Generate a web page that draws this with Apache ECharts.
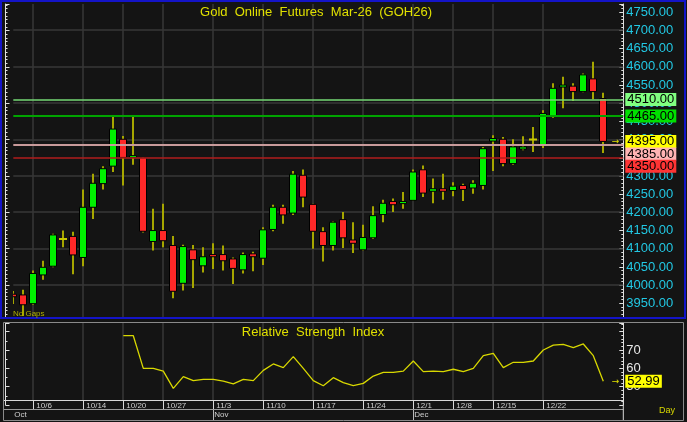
<!DOCTYPE html>
<html><head><meta charset="utf-8">
<script src="https://cdn.jsdelivr.net/npm/echarts@6/dist/echarts.min.js"></script>
<style>html,body{margin:0;padding:0;background:#141414;}#c{width:687px;height:422px;}</style>
</head><body><div id="c"></div>
<script>
// ---- data ----
const dates = ['10/2','10/3','10/6','10/7','10/8','10/9','10/10','10/14','10/15','10/16',
  '10/17','10/20','10/21','10/22','10/23','10/27','10/28','10/29','10/30','10/31',
  '11/3','11/4','11/5','11/6','11/7','11/10','11/11','11/12','11/13','11/14',
  '11/17','11/18','11/19','11/20','11/21','11/24','11/25','11/26','11/27','11/28',
  '12/1','12/2','12/3','12/4','12/8','12/9','12/10','12/11','12/15','12/16',
  '12/17','12/18','12/19','12/22','12/23','12/24','12/26','12/29','12/30','12/31','',' '];
const opens  = [3975,3973,3949,4028,4052,4127,4134,4076,4214,4279,4327,4401,4351,4350,4120,4150,4109,4005,4097,4053,
  4084,4084,4072,4042,4086,4074,4153,4214,4198,4302,4222,4147,4109,4180,4124,4097,4130,4194,4230,4224,
  4233,4317,4258,4265,4260,4274,4267,4274,4396,4401,4334,4374,4400,4385,4465,4545,4547,4532,4567,4513];
const closes = [3968,3946,4032,4049,4138,4127,4083,4214,4280,4320,4429,4351,4356,4148,4150,4122,3983,4106,4070,4078,
  4078,4067,4046,4084,4078,4152,4214,4193,4305,4242,4148,4109,4173,4130,4115,4131,4191,4225,4221,4230,
  4311,4253,4265,4258,4272,4263,4280,4375,4403,4334,4380,4380,4400,4472,4541,4550,4532,4578,4532,4395];
const lows   = [3948,3915,3946,4015,4049,4104,4030,4052,4182,4263,4311,4274,4331,4145,4095,4104,3964,3985,3992,4035,
  4044,4040,4003,4032,4038,4055,4148,4169,4193,4214,4100,4065,4095,4102,4088,4095,4127,4173,4201,4210,
  4231,4242,4225,4235,4244,4231,4251,4263,4314,4327,4331,4371,4366,4377,4460,4486,4506,4530,4511,4363];
const highs  = [3984,3987,4040,4067,4141,4150,4147,4263,4306,4327,4465,4410,4465,4352,4210,4224,4135,4111,4110,4104,
  4115,4109,4076,4090,4092,4159,4221,4221,4314,4318,4224,4159,4175,4201,4173,4166,4217,4235,4238,4256,
  4318,4329,4293,4306,4283,4279,4288,4380,4412,4407,4401,4409,4435,4481,4555,4573,4555,4582,4614,4529];
const rsi = [null,null,null,null,null,null,null,null,null,null,null,
  77.8,77.8,60,60,58.5,49.1,55.5,53.3,54,54,53,51.5,54,53.3,58.9,62.4,60.4,66.4,60,
  53.3,50.5,54.9,52.2,50.6,51.8,55.8,57.8,57.8,58.5,64,58.2,58.5,58.2,59.5,58.2,60,66.9,68.2,60.4,
  63.3,63.3,64,70,72.7,73.1,71.3,73.3,66.9,52.99];
const weekIdx = [2,7,11,15,20,25,30,35,40,44,48,53];
const monthIdx = [0,20,40];
const monthNames = ['Oct','Nov','Dec'];
const levelValues = [4510,4465,4385,4350];
const lastPrice = 4395;
const lastRsi = 52.99;
const rsiLabels = [50,60,70];
const priceGridValues = [4000,4100,4200,4300,4400,4500,4600,4700];
const titleText = 'Gold  Online  Futures  Mar-26  (GOH26)';
const rsiTitle = 'Relative  Strength  Index';

// ---- chart ----
const FONT = '"Liberation Sans", Arial, sans-serif';
const BG = '#141414';
const GRIDC = '#373737';
const weekSet = new Set(weekIdx);
const lastIdx = dates.length - 1;
const candleData = opens.map((o, i) => [i, o, closes[i], lows[i], highs[i]]);

function renderCandle(params, api) {
  const i = api.value(0), o = api.value(1), c = api.value(2), l = api.value(3), h = api.value(4);
  const pO = api.coord([i, o]), pC = api.coord([i, c]), pL = api.coord([i, l]), pH = api.coord([i, h]);
  const x = Math.round(pO[0]);
  const children = [{type:'line', shape:{x1:x, y1:pH[1], x2:x, y2:pL[1]}, style:{stroke:'#a6a600', lineWidth:2}}];
  if (o === c) {
    children.push({type:'line', shape:{x1:x-4, y1:pO[1], x2:x+4, y2:pO[1]}, style:{stroke:'#c8c800', lineWidth:2}});
  } else {
    const top = Math.min(pO[1], pC[1]);
    const hh = Math.max(Math.abs(pO[1]-pC[1]), 2);
    children.push({type:'rect', shape:{x:x-3.5, y:top, width:7, height:hh},
      style:{fill: c > o ? '#00f000' : '#ff2828', stroke:'#000', lineWidth:1}});
  }
  return {type:'group', children};
}

function renderVGrid(params, api) {
  const i = api.value(0);
  const p = api.coord([i, 0]);
  const cs = params.coordSys;
  const x = Math.round(p[0]);
  return {type:'line', shape:{x1:x, y1:cs.y, x2:x, y2:cs.y + cs.height}, style:{stroke:GRIDC, lineWidth:1.5}};
}
function renderHGrid(params, api) {
  const v = api.value(1);
  const p = api.coord([0, v]);
  const cs = params.coordSys;
  const y = Math.round(p[1]);
  return {type:'line', shape:{x1:cs.x, y1:y, x2:cs.x + cs.width, y2:y}, style:{stroke:GRIDC, lineWidth:1.5}};
}

function boxLabel(v, bg, dy) {
  return {coord:[lastIdx, v], label:{show:true, position:'right', distance:2, offset:[0, dy],
    formatter: v.toFixed(2), backgroundColor:bg, color:'#000', fontSize:13, fontFamily:FONT,
    lineHeight:13, padding:[0,2]}};
}
function arrowLabel(v) {
  return {coord:[lastIdx, v], label:{show:true, position:'left', distance:4, formatter:'→',
    color:'#e0e000', fontSize:9, fontFamily:'DejaVu Sans'}};
}

const option = {
  backgroundColor: BG,
  animation: false,
  grid: [
    {left:13.3, top:4, width:610, height:317.5},
    {left:13.3, top:323, width:610, height:82},
    {left:13.3, top:405, width:610, height:4}
  ],
  xAxis: [
    {gridIndex:0, type:'category', data:dates, boundaryGap:false,
     axisLine:{show:false}, axisTick:{show:false}, axisLabel:{show:false}, splitLine:{show:false}},
    {gridIndex:1, type:'category', data:dates, boundaryGap:false, offset:-5, position:'bottom',
     axisLine:{show:false},
     axisTick:{show:true, interval:(i)=>weekSet.has(i), length:9, lineStyle:{color:'#d8d8d8'}},
     axisLabel:{show:true, interval:(i)=>weekSet.has(i), formatter:(v)=>v, align:'left', verticalAlign:'top',
       padding:[0,0,0,3], margin:2, fontSize:8, color:'#d0d0d0', fontFamily:FONT},
     splitLine:{show:false}},
    {gridIndex:2, type:'category', data:dates, boundaryGap:false, position:'bottom',
     axisLine:{show:false},
     axisTick:{show:true, interval:(i)=>monthIdx.indexOf(i) > 0, length:11, lineStyle:{color:'#b8b8b8'}},
     axisLabel:{show:true, interval:(i)=>monthIdx.indexOf(i) >= 0,
       formatter:(v, i)=>monthNames[monthIdx.indexOf(i)] || '', align:'left', verticalAlign:'top',
       padding:[0,0,0,1], margin:2, fontSize:8, color:'#d0d0d0', fontFamily:FONT},
     splitLine:{show:false}}
  ],
  yAxis: [
    {gridIndex:0, type:'value', position:'right', min:3900, max:4772.8, interval:50,
     axisLine:{show:true, lineStyle:{color:'#e0e0e0'}},
     axisTick:{show:true, inside:true, length:4, lineStyle:{color:'#e0e0e0'}},
     minorTick:{show:true, splitNumber:5, length:2, lineStyle:{color:'#e0e0e0'}},
     axisLabel:{show:true, margin:3, color:'#22c8e4', fontSize:13, fontFamily:FONT,
       formatter:(v)=> (v >= 3950 && v <= 4750) ? v.toFixed(2) : ''},
     splitLine:{show:false}},
    {gridIndex:0, type:'value', position:'left', offset:7.8, min:3900, max:4772.8, interval:100,
     axisLine:{show:true, lineStyle:{color:'#e0e0e0'}},
     axisTick:{show:true, inside:true, length:4, lineStyle:{color:'#e0e0e0'}},
     minorTick:{show:true, splitNumber:10, length:2, lineStyle:{color:'#e0e0e0'}},
     axisLabel:{show:false}, splitLine:{show:false}},
    {gridIndex:1, type:'value', position:'right', min:40, max:84.73, interval:10,
     axisLine:{show:true, lineStyle:{color:'#e0e0e0'}},
     axisTick:{show:true, inside:true, length:4, lineStyle:{color:'#e0e0e0'}},
     minorTick:{show:true, splitNumber:5, length:2, lineStyle:{color:'#e0e0e0'}},
     axisLabel:{show:true, margin:3, color:'#e8e8e8', fontSize:13, fontFamily:FONT,
       formatter:(v)=> rsiLabels.indexOf(v) >= 0 ? String(v) : ''},
     splitLine:{show:false}},
    {gridIndex:1, type:'value', position:'left', offset:7.8, min:40, max:84.73, interval:10,
     axisLine:{show:true, lineStyle:{color:'#e0e0e0'}},
     axisTick:{show:true, inside:true, length:4, lineStyle:{color:'#e0e0e0'}},
     minorTick:{show:true, splitNumber:2, length:2, lineStyle:{color:'#e0e0e0'}},
     axisLabel:{show:false}, splitLine:{show:false}},
    {gridIndex:2, type:'value', show:false}
  ],
  series: [
    {type:'custom', name:'vgrid', xAxisIndex:0, yAxisIndex:0, silent:true, z:1, clip:false,
     data: weekIdx.map(i => [i, 4000]), encode:{x:0, y:1}, renderItem:renderVGrid},
    {type:'custom', name:'hgrid', xAxisIndex:0, yAxisIndex:0, silent:true, z:1, clip:false,
     data: priceGridValues.map(v => [0, v]), encode:{x:0, y:1}, renderItem:renderHGrid},
    {type:'custom', name:'vgrid2', xAxisIndex:1, yAxisIndex:2, silent:true, z:1, clip:false,
     data: weekIdx.map(i => [i, 60]), encode:{x:0, y:1}, renderItem:(p, api) => {
       const x = Math.round(api.coord([api.value(0), 60])[0]);
       return {type:'line', shape:{x1:x, y1:323, x2:x, y2:400}, style:{stroke:GRIDC, lineWidth:1.5}};
     }},
    {type:'custom', name:'GOH26', xAxisIndex:0, yAxisIndex:0, data:candleData,
     encode:{x:0, y:[1,2,3,4]}, renderItem:renderCandle, clip:true, z:3},
    {type:'line', xAxisIndex:0, yAxisIndex:0, data:closes, showSymbol:false, symbol:'none', silent:true,
     clip:false, lineStyle:{opacity:0}, z:4,
     markLine:{symbol:['none','none'], silent:true, animation:false, label:{show:false},
       data:[
         {yAxis:levelValues[0], lineStyle:{color:'#74d874', width:1.5, type:'solid'}},
         {yAxis:levelValues[1], lineStyle:{color:'#00a400', width:2, type:'solid'}},
         {yAxis:levelValues[2], lineStyle:{color:'#c89a9a', width:2, type:'solid'}},
         {yAxis:levelValues[3], lineStyle:{color:'#b01c1c', width:1.5, type:'solid'}}
       ]},
     markPoint:{symbol:'circle', symbolSize:0, silent:true, animation:false,
       data:[
         boxLabel(levelValues[0], '#80ff80', 0),
         boxLabel(levelValues[1], '#00e000', 0),
         boxLabel(lastPrice, '#ffff00', 0),
         boxLabel(levelValues[2], '#ffb4b4', 9),
         boxLabel(levelValues[3], '#ff3434', 8.5),
         arrowLabel(lastPrice)
       ]}},
    {type:'line', name:'RSI', xAxisIndex:1, yAxisIndex:2, data:rsi, showSymbol:false, symbol:'none',
     clip:false, lineStyle:{color:'#d8d800', width:1.3}, z:3,
     markPoint:{symbol:'circle', symbolSize:0, silent:true, animation:false,
       data:[ boxLabel(lastRsi, '#ffff00', 0), arrowLabel(lastRsi) ]}}
  ],
  graphic: [
    {type:'rect', z:99, shape:{x:0, y:319, width:687, height:3.5}, style:{fill:BG}},
    {type:'rect', z:100, shape:{x:1, y:1, width:684, height:317}, style:{fill:'none', stroke:'#1414c8', lineWidth:2}},
    {type:'rect', z:100, shape:{x:3.5, y:322.5, width:680, height:98}, style:{fill:'none', stroke:'#8a8a8a', lineWidth:1}},
    {type:'line', z:100, shape:{x1:4, y1:400.5, x2:623.3, y2:400.5}, style:{stroke:'#d8d8d8', lineWidth:1}},
    {type:'line', z:100, shape:{x1:4, y1:409.5, x2:623.3, y2:409.5}, style:{stroke:'#9a9a9a', lineWidth:1}},
    {type:'line', z:100, shape:{x1:623.3, y1:400, x2:623.3, y2:420}, style:{stroke:'#d8d8d8', lineWidth:1}},
    {type:'text', z:100, x:316, y:12, style:{text:titleText, fill:'#e0e000', font:'13px ' + FONT, textAlign:'center', textVerticalAlign:'middle'}},
    {type:'text', z:100, x:313, y:332, style:{text:rsiTitle, fill:'#e0e000', font:'13px ' + FONT, textAlign:'center', textVerticalAlign:'middle'}},
    {type:'text', z:100, x:13, y:314, style:{text:'No Gaps', fill:'#b0b000', font:'8px ' + FONT, textAlign:'left', textVerticalAlign:'middle'}},
    {type:'text', z:100, x:659, y:411, style:{text:'Day', fill:'#d8d800', font:'9px ' + FONT, textAlign:'left', textVerticalAlign:'middle'}}
  ]
};
const chart = echarts.init(document.getElementById('c'));
chart.setOption(option);
</script></body></html>
